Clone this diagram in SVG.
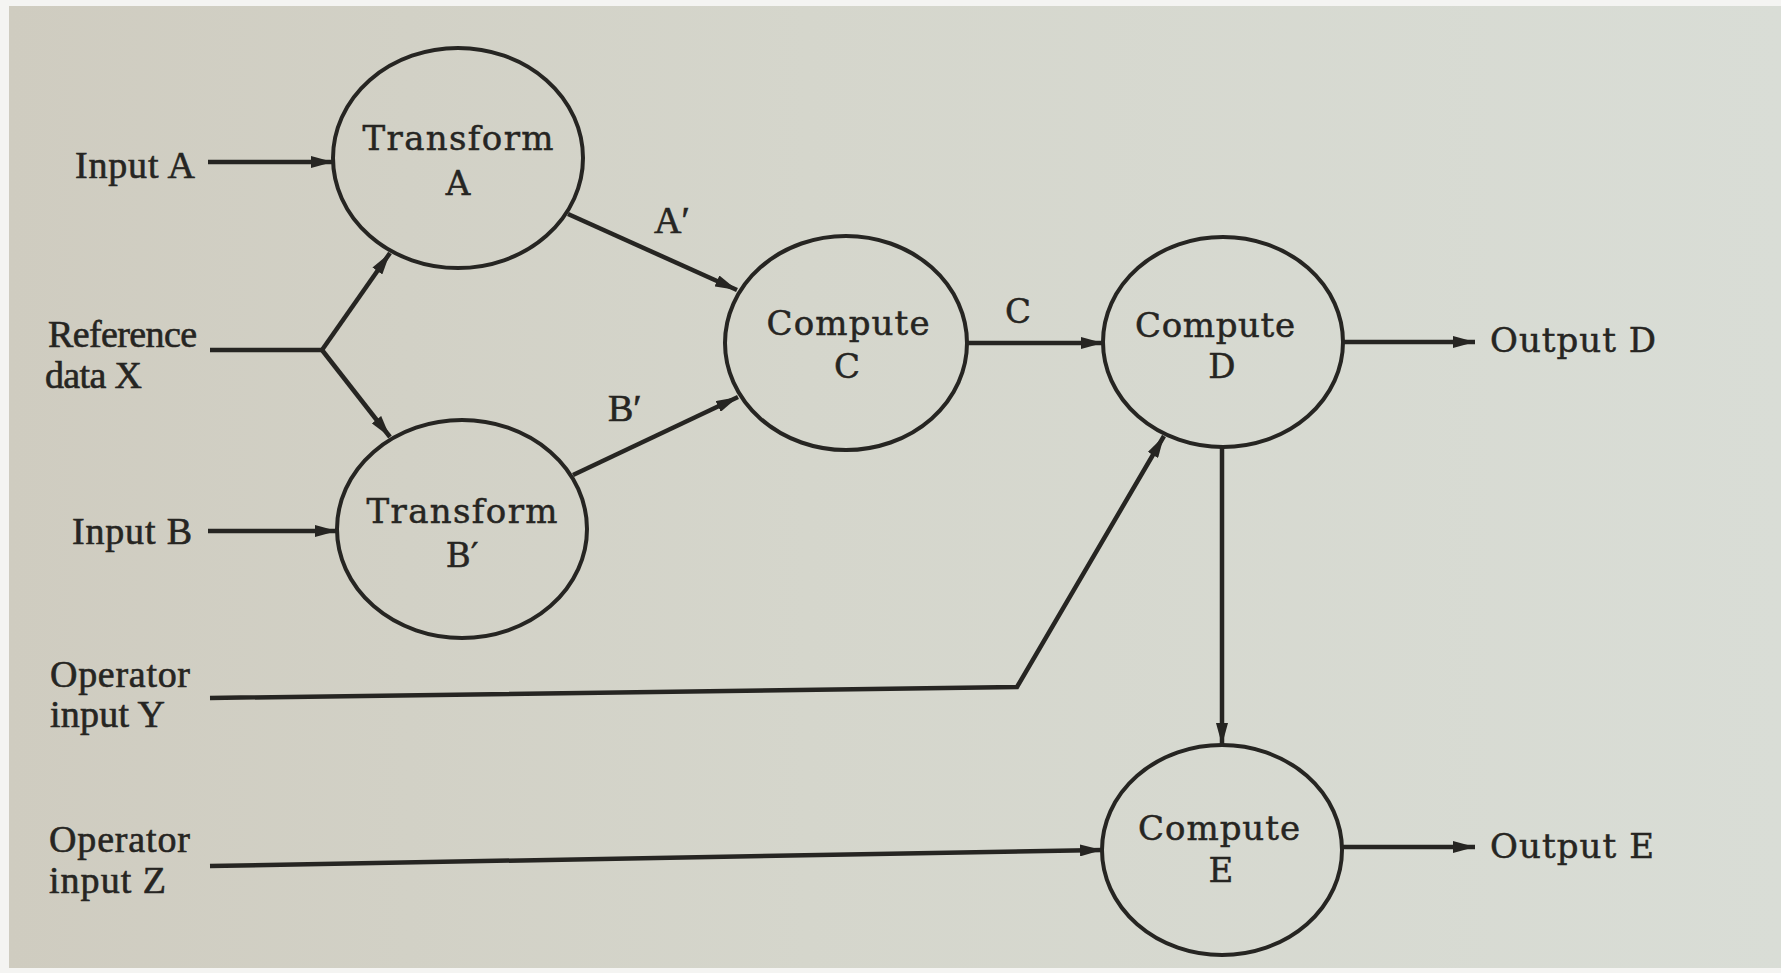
<svg xmlns="http://www.w3.org/2000/svg" width="1781" height="973" viewBox="0 0 1781 973">
  <style>
    .node ellipse { fill: none; stroke: #262522; stroke-width: 4; }
    .lbl { font-family: "Liberation Serif", "Times New Roman", serif; font-size: 38px; fill: #262522; stroke: #262522; stroke-width: 0.6; }
    .wide { font-family: "DejaVu Serif", "Liberation Serif", serif; font-size: 34px; fill: #262522; stroke: #262522; stroke-width: 0.5; }
    .nt { font-family: "DejaVu Serif", "Liberation Serif", serif; font-size: 34px; fill: #262522; stroke: #262522; stroke-width: 0.5; text-anchor: middle; }
    .wire { fill: none; stroke: #262522; stroke-width: 4.5; stroke-linejoin: miter; }
  </style>
  <defs>
    <linearGradient id="paper" x1="0" y1="0" x2="1" y2="0">
      <stop offset="0" stop-color="#cfccc0"/>
      <stop offset="0.45" stop-color="#d5d6cc"/>
      <stop offset="1" stop-color="#d9ddd6"/>
    </linearGradient>
    <marker id="arrow" viewBox="0 0 22 12" refX="22" refY="6" markerWidth="22" markerHeight="12" markerUnits="userSpaceOnUse" orient="auto">
      <path d="M0,0 L22,6 L0,12 z" fill="#262522"/>
    </marker>
  </defs>

  <!-- page -->
  <rect x="0" y="0" width="1781" height="973" fill="#f4f4f2"/>
  <rect x="9" y="6" width="1772" height="962" fill="url(#paper)"/>

  <!-- connectors -->
  <g id="connectors">
    <line class="wire" x1="208" y1="162" x2="333" y2="162" marker-end="url(#arrow)"/>
    <polyline class="wire" points="210,350 322,350"/>
    <line class="wire" x1="322" y1="350" x2="390" y2="253" marker-end="url(#arrow)"/>
    <line class="wire" x1="322" y1="350" x2="390" y2="437" marker-end="url(#arrow)"/>
    <line class="wire" x1="208" y1="531" x2="337" y2="531" marker-end="url(#arrow)"/>
    <line class="wire" x1="568" y1="214" x2="737" y2="290" marker-end="url(#arrow)"/>
    <line class="wire" x1="573" y1="475" x2="738" y2="397" marker-end="url(#arrow)"/>
    <line class="wire" x1="968" y1="343" x2="1103" y2="343" marker-end="url(#arrow)"/>
    <line class="wire" x1="1343" y1="342" x2="1475" y2="342" marker-end="url(#arrow)"/>
    <polyline class="wire" points="210,698 1017,687 1164,436" marker-end="url(#arrow)"/>
    <line class="wire" x1="1222" y1="447" x2="1222" y2="745" marker-end="url(#arrow)"/>
    <line class="wire" x1="210" y1="866" x2="1102" y2="850" marker-end="url(#arrow)"/>
    <line class="wire" x1="1342" y1="847" x2="1475" y2="847" marker-end="url(#arrow)"/>

    <text class="lbl" x="654" y="233">A′</text>
    <text class="lbl" x="608" y="421">B′</text>
    <text class="wide" x="1005" y="323">C</text>
  </g>

  <!-- external inputs and outputs -->
  <g id="input-a"><text class="lbl" x="75" y="178" textLength="120">Input A</text></g>
  <g id="reference-x">
    <text class="lbl" x="48" y="347" textLength="149">Reference</text>
    <text class="lbl" x="45" y="388" textLength="97">data X</text>
  </g>
  <g id="input-b"><text class="lbl" x="72" y="544" textLength="120">Input B</text></g>
  <g id="operator-y">
    <text class="lbl" x="50" y="687" textLength="140">Operator</text>
    <text class="lbl" x="50" y="727" textLength="115">input Y</text>
  </g>
  <g id="operator-z">
    <text class="lbl" x="49" y="852" textLength="141">Operator</text>
    <text class="lbl" x="49" y="893" textLength="117">input Z</text>
  </g>
  <g id="output-d"><text class="wide" x="1490" y="352" textLength="166">Output D</text></g>
  <g id="output-e"><text class="wide" x="1490" y="858" textLength="164">Output E</text></g>

  <!-- process nodes -->
  <g id="transform-a" class="node">
    <ellipse cx="458" cy="158" rx="125" ry="110"/>
    <text class="nt" x="458" y="150" textLength="191">Transform</text>
    <text class="nt" x="458" y="195">A</text>
  </g>
  <g id="transform-b" class="node">
    <ellipse cx="462" cy="529" rx="125" ry="109"/>
    <text class="nt" x="462" y="523" textLength="191">Transform</text>
    <text class="nt" x="462" y="567">B′</text>
  </g>
  <g id="compute-c" class="node">
    <ellipse cx="846" cy="343" rx="121" ry="107"/>
    <text class="nt" x="848" y="335" textLength="163">Compute</text>
    <text class="nt" x="847" y="378">C</text>
  </g>
  <g id="compute-d" class="node">
    <ellipse cx="1223" cy="342" rx="120" ry="105"/>
    <text class="nt" x="1215" y="337" textLength="160">Compute</text>
    <text class="nt" x="1222" y="378">D</text>
  </g>
  <g id="compute-e" class="node">
    <ellipse cx="1222" cy="850" rx="120" ry="105"/>
    <text class="nt" x="1219" y="840" textLength="162">Compute</text>
    <text class="nt" x="1221" y="882">E</text>
  </g>
</svg>
